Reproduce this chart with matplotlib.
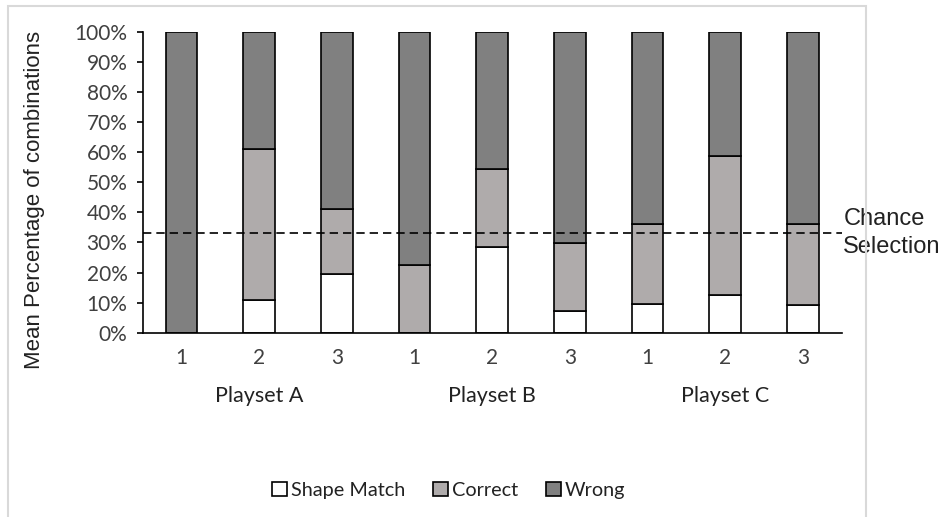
import matplotlib
matplotlib.use("Agg")
import matplotlib.pyplot as plt
from matplotlib.patches import Rectangle
from matplotlib.ticker import PercentFormatter

# values (percent)
conditions = ["1", "2", "3", "1", "2", "3", "1", "2", "3"]
playsets = ["Playset A", "Playset B", "Playset C"]
shape_match = [0, 10.9, 19.5, 0, 28.6, 7.2, 9.4, 12.5, 9.2]
correct = [0, 50.2, 21.5, 22.6, 25.7, 22.7, 26.9, 46.3, 26.9]
wrong = [100 - s - c for s, c in zip(shape_match, correct)]
chance = 33.3

col_shape = "#ffffff"
col_correct = "#afabab"
col_wrong = "#808080"

fig = plt.figure(figsize=(9.43, 5.17), dpi=100)
ax = fig.add_axes([0.1513, 0.3565, 0.7413, 0.5816])

x = list(range(len(conditions)))
w = 0.41
kw = dict(width=w, edgecolor="black", linewidth=1.2)
ax.bar(x, shape_match, color=col_shape, label="Shape Match", **kw)
ax.bar(x, correct, bottom=shape_match, color=col_correct, label="Correct", **kw)
bottoms = [s + c for s, c in zip(shape_match, correct)]
ax.bar(x, wrong, bottom=bottoms, color=col_wrong, label="Wrong", **kw)

ax.axhline(chance, color="black", linestyle=(0, (5, 3)), linewidth=1.2)

ax.set_xlim(-0.5, len(conditions) - 0.5)
ax.set_ylim(0, 100)
ax.set_yticks(range(0, 101, 10))
ax.yaxis.set_major_formatter(PercentFormatter(decimals=0))
for s in ["top", "right"]:
    ax.spines[s].set_visible(False)
ax.spines["left"].set_linewidth(1.2)
ax.spines["bottom"].set_linewidth(1.2)
ax.tick_params(axis="y", length=4, width=1.2, labelsize=15, labelcolor="#404040", pad=7)
ax.tick_params(axis="x", length=0, labelsize=15, labelcolor="#404040", pad=11)
ax.set_xticks(x)
ax.set_xticklabels(conditions)
for lab in ax.get_xticklabels() + ax.get_yticklabels():
    lab.set_family("Lato")

ax.set_ylabel("Mean Percentage of combinations", family="Liberation Sans",
              fontsize=16, color="#222222")
ax.yaxis.set_label_coords(-0.14, 0.44)

# group labels under each playset
for i, name in enumerate(playsets):
    ax.text(3 * i + 1, -21, name, ha="center", va="center", fontsize=15.5,
            family="Lato", color="#222222", transform=ax.transData)

ax.text(len(conditions) - 0.48, chance, "Chance\nSelection", ha="left", va="center",
        fontsize=17, family="Liberation Sans", color="#222222", linespacing=1.35)

leg = fig.legend(loc="center", bbox_to_anchor=(0.476, 0.052), ncol=3, frameon=False,
                 prop={"family": "Lato", "size": 14.3}, handlelength=0.75, handleheight=0.75,
                 handletextpad=0.2, columnspacing=1.4)
for t in leg.get_texts():
    t.set_color("#222222")

# light border around the chart area
fig.patches.append(Rectangle((8 / 943, -0.01), (866 - 8) / 943, 1 - 6 / 517 + 0.01,
                             transform=fig.transFigure, fill=False,
                             edgecolor="#d9d9d9", linewidth=1.5))

fig.savefig("out.png", dpi=100)
